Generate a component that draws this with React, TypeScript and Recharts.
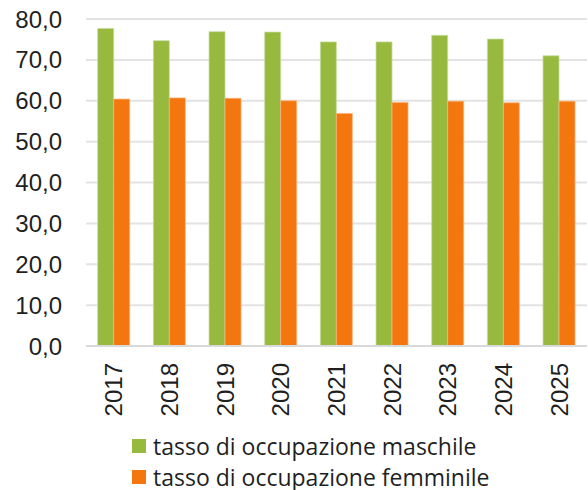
import { BarChart, Bar, XAxis, YAxis, CartesianGrid, Legend } from 'recharts';

const years = ['2017', '2018', '2019', '2020', '2021', '2022', '2023', '2024', '2025'];
const maschile = [77.7, 74.7, 76.9, 76.8, 74.4, 74.4, 76.0, 75.1, 71.0];
const femminile = [60.4, 60.7, 60.6, 60.0, 56.9, 59.6, 59.9, 59.5, 59.9];
const yTicks = [0, 10, 20, 30, 40, 50, 60, 70, 80];

const GREEN = '#96b93e';
const ORANGE = '#f3760e';
const TICK_FONT = '"Liberation Sans", Arial, sans-serif';

const data = years.map((year, i) => ({
  year,
  maschile: maschile[i],
  femminile: femminile[i],
}));

function YearTick({ x, y, payload }: any) {
  return (
    <text
      x={x}
      y={y}
      transform={`rotate(-90, ${x}, ${y})`}
      textAnchor="end"
      dy="0.35em"
      fontSize={24}
      fontFamily={TICK_FONT}
      fill="#1f1f1f"
    >
      {payload.value}
    </text>
  );
}

function LegendBox() {
  const items = [
    { label: 'tasso di occupazione maschile', color: GREEN },
    { label: 'tasso di occupazione femminile', color: ORANGE },
  ];
  return (
    <div style={{ display: 'flex', flexDirection: 'column', gap: 5 }}>
      {items.map((it) => (
        <div
          key={it.label}
          style={{ display: 'flex', alignItems: 'center', height: 26, paddingLeft: 132 }}
        >
          <span style={{ width: 14, height: 14, background: it.color, marginRight: 7 }} />
          <span
            style={{
              fontFamily: '"Open Sans", sans-serif',
              fontSize: 23,
              color: '#1f1f1f',
              lineHeight: '26px',
              whiteSpace: 'nowrap',
            }}
          >
            {it.label}
          </span>
        </div>
      ))}
    </div>
  );
}

export default function App() {
  return (
    <div style={{ position: 'absolute', left: 0, top: 0, background: '#fff' }}>
      <BarChart
        width={588}
        height={490}
        data={data}
        margin={{ top: 19, right: 1, left: 0, bottom: 0 }}
        barCategoryGap="21%"
        barGap={0}
      >
        <CartesianGrid vertical={false} stroke="#e3e3e3" strokeWidth={2} />
        <XAxis
          dataKey="year"
          height={87}
          interval={0}
          tickLine={false}
          axisLine={{ stroke: '#d9d9d9', strokeWidth: 2 }}
          tickSize={0}
          tickMargin={17}
          tick={<YearTick />}
        />
        <YAxis
          width={86}
          domain={[0, 80]}
          ticks={yTicks}
          interval={0}
          axisLine={false}
          tickLine={false}
          tickSize={0}
          tickMargin={24}
          tickFormatter={(v: number) => v.toFixed(1).replace('.', ',')}
          tick={{ fontSize: 24, fontFamily: TICK_FONT, fill: '#1f1f1f' }}
        />
        <Legend
          verticalAlign="bottom"
          content={<LegendBox />}
          wrapperStyle={{ top: 433, left: 0, bottom: 'auto', width: 588, height: 57 }}
        />
        <Bar
          dataKey="maschile"
          fill={GREEN}
          stroke="#c8dca0"
          strokeWidth={0.75}
          isAnimationActive={false}
        />
        <Bar
          dataKey="femminile"
          fill={ORANGE}
          stroke="#f9b37a"
          strokeWidth={0.75}
          isAnimationActive={false}
        />
      </BarChart>
    </div>
  );
}
